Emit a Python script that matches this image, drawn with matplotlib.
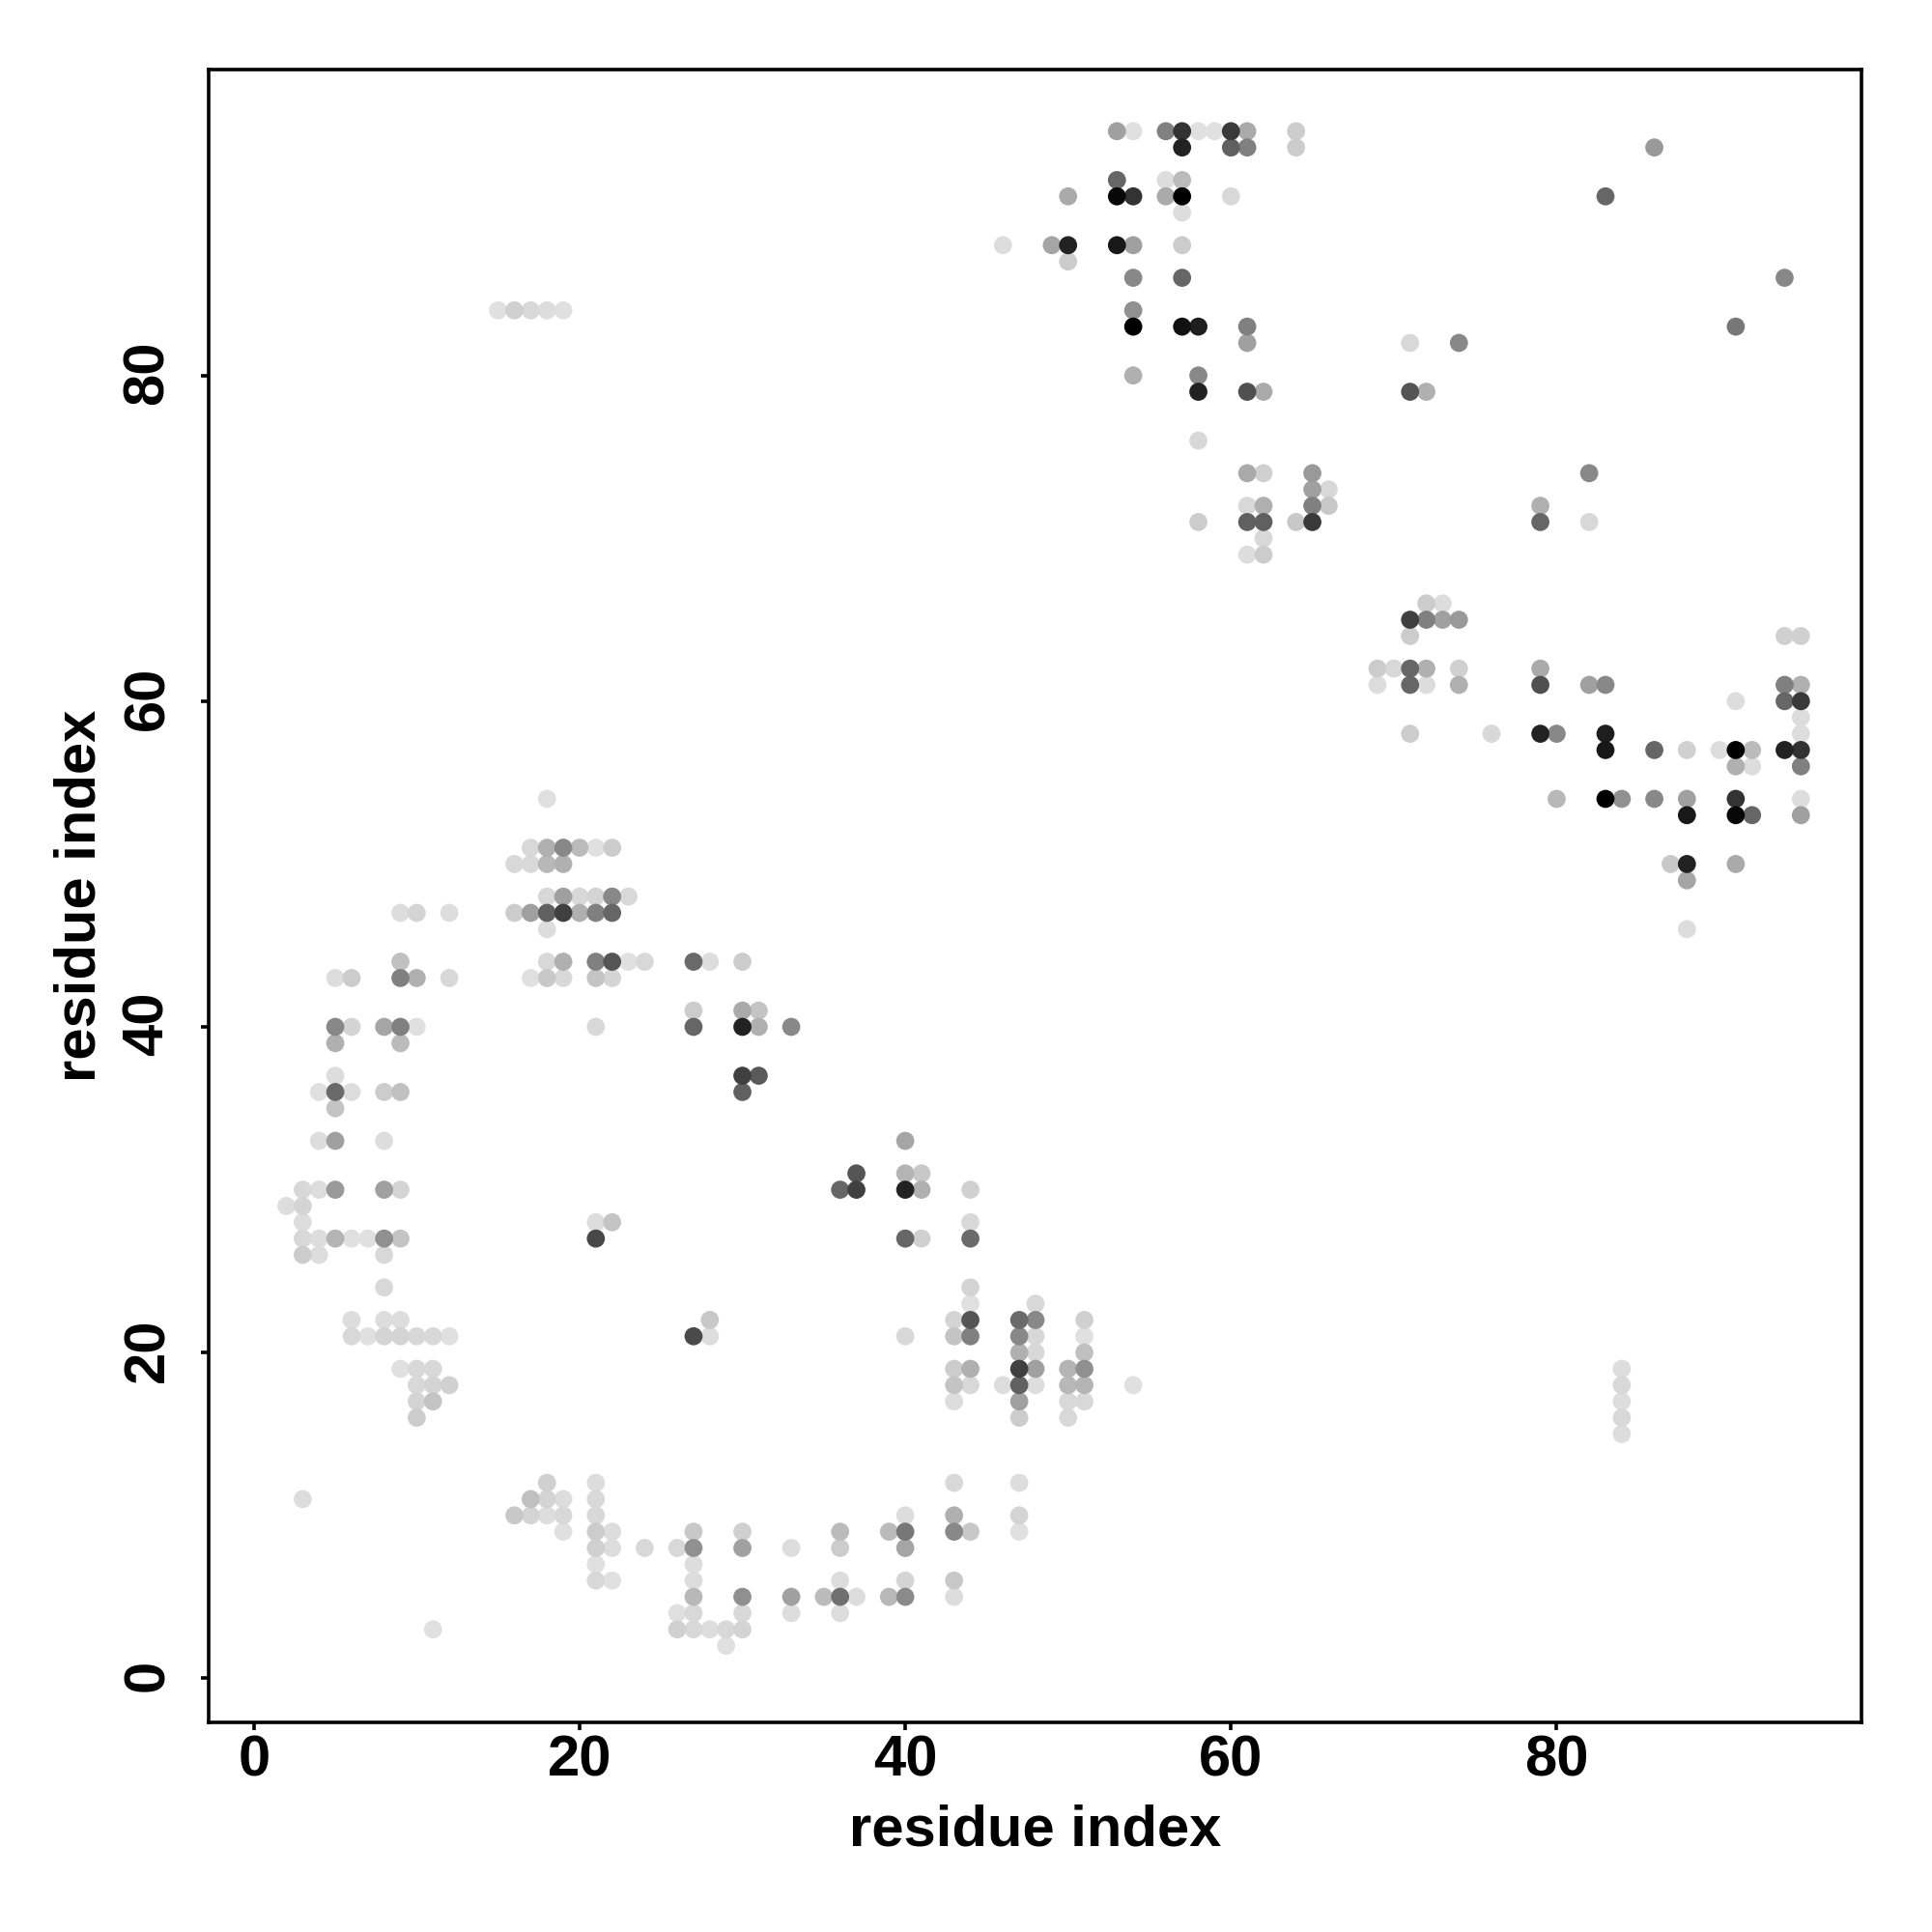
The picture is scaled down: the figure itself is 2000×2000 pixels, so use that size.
import numpy as np
import matplotlib
matplotlib.use("Agg")
import matplotlib.pyplot as plt
from matplotlib.transforms import ScaledTranslation

plt.rcParams['font.family'] = ['Liberation Sans', 'DejaVu Sans']

# one entry per row of the contact map: y index, x indices, grey level of each dot
row_y = [95, 94, 92, 91, 90, 88, 87, 86, 84, 83, 82, 80, 79, 76, 74, 73, 72, 71, 70, 69,
         66, 65, 64, 62, 61, 60, 59, 58, 57, 56, 54, 53,
         51, 50, 49, 48, 47, 46, 44, 43, 41, 40, 39, 37, 36, 35, 33, 31, 30, 29, 28, 27, 26, 24, 23, 22, 21, 20,
         19, 18, 17, 16, 15, 12, 11, 10, 9, 8, 7, 6, 5, 4, 3, 2]

row_x = [
    [53, 54, 56, 57, 58, 59, 60, 61, 64],
    [57, 60, 61, 64, 86],
    [53, 56, 57],
    [50, 53, 54, 56, 57, 60, 83],
    [57],
    [46, 49, 50, 53, 54, 57],
    [50],
    [54, 57, 94],
    [15, 16, 17, 18, 19, 54],
    [54, 57, 58, 61, 91],
    [61, 71, 74],
    [54, 58],
    [58, 61, 62, 71, 72],
    [58],
    [61, 62, 65, 82],
    [65, 66],
    [61, 62, 65, 66, 79],
    [58, 61, 62, 64, 65, 79, 82],
    [62],
    [61, 62],
    [72, 73],
    [71, 72, 73, 74],
    [71, 94, 95],
    [69, 70, 71, 72, 74, 79],
    [69, 71, 72, 74, 79, 82, 83, 94, 95],
    [91, 94, 95],
    [95],
    [71, 76, 79, 80, 83, 95],
    [83, 86, 88, 90, 91, 92, 94, 95],
    [91, 92, 95],
    [18, 80, 83, 84, 86, 88, 91, 95],
    [88, 91, 92, 95],
    [17, 18, 19, 20, 21, 22],
    [16, 17, 18, 19, 87, 88, 91],
    [88],
    [18, 19, 20, 21, 22, 23],
    [9, 10, 12, 16, 17, 18, 19, 20, 21, 22],
    [18, 88],
    [9, 18, 19, 21, 22, 23, 24, 27, 28, 30],
    [5, 6, 9, 10, 12, 17, 18, 19, 21, 22],
    [27, 30, 31],
    [5, 6, 8, 9, 10, 21, 27, 30, 31, 33],
    [5, 9],
    [5, 30, 31],
    [4, 5, 6, 8, 9, 30],
    [5],
    [4, 5, 8, 40],
    [37, 40, 41],
    [3, 4, 5, 8, 9, 36, 37, 40, 41, 44],
    [2, 3],
    [3, 21, 22, 44],
    [3, 4, 5, 6, 7, 8, 9, 21, 40, 41, 44],
    [3, 4, 8],
    [8, 44],
    [44, 48],
    [6, 8, 9, 28, 43, 44, 47, 48, 51],
    [6, 7, 8, 9, 10, 11, 12, 27, 28, 40, 43, 44, 47, 48, 51],
    [47, 48, 51],
    [9, 10, 11, 43, 44, 47, 48, 50, 51, 84],
    [10, 11, 12, 43, 44, 46, 47, 48, 50, 51, 54, 84],
    [10, 11, 43, 47, 50, 51, 84],
    [10, 47, 50, 84],
    [84],
    [18, 21, 43, 47],
    [3, 17, 18, 19, 21],
    [16, 17, 18, 19, 21, 40, 43, 47],
    [19, 21, 22, 27, 30, 36, 39, 40, 43, 44, 47],
    [21, 22, 24, 26, 27, 30, 33, 36, 40],
    [21, 27],
    [21, 22, 27, 36, 40, 43],
    [27, 30, 33, 35, 36, 37, 39, 40, 43],
    [26, 27, 30, 33, 36],
    [11, 26, 27, 28, 29, 30],
    [29],
]

row_grey = [
    [0xa0, 0xe0, 0x80, 0x33, 0xe0, 0xe0, 0x3a, 0xaa, 0xcc],
    [0x22, 0x60, 0x80, 0xcc, 0x99],
    [0x66, 0xdd, 0xbb],
    [0xaa, 0x08, 0x33, 0xaa, 0x00, 0xd8, 0x66],
    [0xdd],
    [0xdd, 0xa5, 0x22, 0x18, 0xa0, 0xcc],
    [0xcc],
    [0x88, 0x66, 0x88],
    [0xe0, 0xd0, 0xd8, 0xdd, 0xe0, 0x90],
    [0x00, 0x11, 0x1e, 0x80, 0x77],
    [0xa0, 0xd8, 0x88],
    [0xb0, 0x88],
    [0x22, 0x50, 0xaa, 0x55, 0xb0],
    [0xd8],
    [0xaa, 0xd0, 0x99, 0x88],
    [0xa0, 0xd8],
    [0xd8, 0xb0, 0x80, 0xc8, 0xb0],
    [0xcc, 0x60, 0x60, 0xc8, 0x3a, 0x66, 0xd8],
    [0xd8],
    [0xdd, 0xcc],
    [0xcc, 0xdd],
    [0x40, 0x80, 0xa0, 0x99],
    [0xcc, 0xd0, 0xd0],
    [0xcc, 0xd8, 0x66, 0xb0, 0xd0, 0xaa],
    [0xdd, 0x66, 0xdd, 0xb0, 0x50, 0xa0, 0x88, 0x80, 0xb0],
    [0xdd, 0x66, 0x3a],
    [0xdd],
    [0xcc, 0xd8, 0x22, 0x88, 0x1e, 0xdd],
    [0x18, 0x66, 0xd0, 0xdd, 0x00, 0xbb, 0x22, 0x33],
    [0xb0, 0xdd, 0x80],
    [0xe0, 0xb8, 0x00, 0x90, 0x88, 0xa0, 0x33, 0xdd],
    [0x18, 0x08, 0x66, 0xa0],
    [0xd8, 0xb0, 0x88, 0xbb, 0xe0, 0xcc],
    [0xd8, 0xd8, 0xb8, 0xb0, 0xc8, 0x22, 0xaa],
    [0xa5],
    [0xd8, 0xa0, 0xd8, 0xd4, 0x88, 0xd8],
    [0xdd, 0xd4, 0xdd, 0xcc, 0xa0, 0x60, 0x40, 0xb0, 0x80, 0x66],
    [0xdd, 0xdd],
    [0xc0, 0xd8, 0xb0, 0x80, 0x55, 0xe0, 0xd8, 0x6a, 0xdd, 0xcc],
    [0xdd, 0xcc, 0x80, 0xb0, 0xd8, 0xe0, 0xc8, 0xd8, 0xc4, 0xd4],
    [0xcc, 0xaa, 0xc4],
    [0x88, 0xd4, 0xa5, 0x80, 0xe0, 0xd8, 0x66, 0x22, 0xb0, 0x88],
    [0xb0, 0xbb],
    [0xdd, 0x40, 0x5a],
    [0xe0, 0x6a, 0xdd, 0xcc, 0xc0, 0x60],
    [0xc4],
    [0xdd, 0xa0, 0xdd, 0xa5],
    [0x55, 0xb4, 0xc8],
    [0xd8, 0xdd, 0x99, 0xa0, 0xd4, 0x66, 0x40, 0x22, 0xb0, 0xd0],
    [0xdd, 0xd4],
    [0xdd, 0xdd, 0xc4, 0xd8],
    [0xd8, 0xdd, 0xb4, 0xe0, 0xe0, 0x90, 0xc4, 0x48, 0x66, 0xd0, 0x6a],
    [0xcc, 0xdd, 0xd8],
    [0xd8, 0xd4],
    [0xe0, 0xd8],
    [0xdd, 0xdd, 0xdd, 0xc8, 0xd4, 0x55, 0x6a, 0x88, 0xd0],
    [0xd8, 0xe0, 0xd4, 0xd4, 0xd8, 0xd8, 0xe0, 0x4a, 0xdd, 0xd8, 0xc4, 0x80, 0x88, 0xd8, 0xe0],
    [0xb0, 0xd8, 0xc0],
    [0xe0, 0xd8, 0xd8, 0xcc, 0xb0, 0x40, 0xa0, 0xb4, 0x90, 0xdd],
    [0xd8, 0xd4, 0xd0, 0xc4, 0xd8, 0xdd, 0x60, 0xdd, 0xb8, 0xb4, 0xe0, 0xd8],
    [0xd4, 0xc4, 0xdd, 0xa0, 0xd8, 0xd8, 0xdd],
    [0xcc, 0xcc, 0xd8, 0xd8],
    [0xdd],
    [0xd0, 0xdd, 0xd8, 0xdd],
    [0xdd, 0xc0, 0xd4, 0xdd, 0xd8],
    [0xc8, 0xd4, 0xdd, 0xd8, 0xd8, 0xdd, 0xb0, 0xd4],
    [0xe0, 0xcc, 0xdd, 0xc8, 0xd0, 0xbb, 0xbb, 0x77, 0x88, 0xc8, 0xe0],
    [0xd0, 0xdd, 0xd8, 0xd8, 0x90, 0xa0, 0xdd, 0xcc, 0xa5],
    [0xe0, 0xdd],
    [0xd8, 0xe0, 0xdd, 0xdd, 0xd4, 0xc8],
    [0xb8, 0x90, 0xa0, 0xbb, 0x70, 0xdd, 0xb8, 0x8a, 0xdd],
    [0xe0, 0xd8, 0xd8, 0xdd, 0xdd],
    [0xe0, 0xd0, 0xd8, 0xdd, 0xd8, 0xd4],
    [0xe0],
]

tick_values = [0, 20, 40, 60, 80]
axis_label = "residue index"

xs = np.concatenate(row_x)
ys = np.concatenate([[y] * len(r) for y, r in zip(row_y, row_x)])
greys = np.concatenate(row_grey) / 255

# darkest dots on top
order = np.argsort(-greys, kind="stable")

fig = plt.figure(figsize=(20, 20), dpi=100)
ax = fig.add_axes([0.1078, 0.1085, 0.8557, 0.8557])

ax.scatter(xs[order], ys[order], c=greys[order], cmap="gray", vmin=0, vmax=1,
           s=182, linewidths=0, clip_on=False)

ax.set_xlim(-2.80, 98.72)
ax.set_ylim(-2.71, 98.81)

ax.set_xticks(tick_values)
ax.set_yticks(tick_values)
ax.set_xticklabels(tick_values, fontsize=43, fontweight="bold")
ax.set_yticklabels(tick_values, fontsize=43, fontweight="bold", rotation=90, va="center")
ax.tick_params(axis="x", length=6, width=2.6, pad=3)
ax.tick_params(axis="y", length=6, width=2.6, pad=19)

# rotated labels sit a little low otherwise
nudge = ScaledTranslation(0, 2 / 72, fig.dpi_scale_trans)
for lab in ax.get_yticklabels():
    lab.set_transform(lab.get_transform() + nudge)

for side in ax.spines.values():
    side.set_linewidth(2.6)

ax.set_xlabel(axis_label, fontsize=43, fontweight="bold", labelpad=12)
ax.set_ylabel(axis_label, fontsize=43, fontweight="bold", labelpad=11)

fig.savefig("out.png", dpi=100)
